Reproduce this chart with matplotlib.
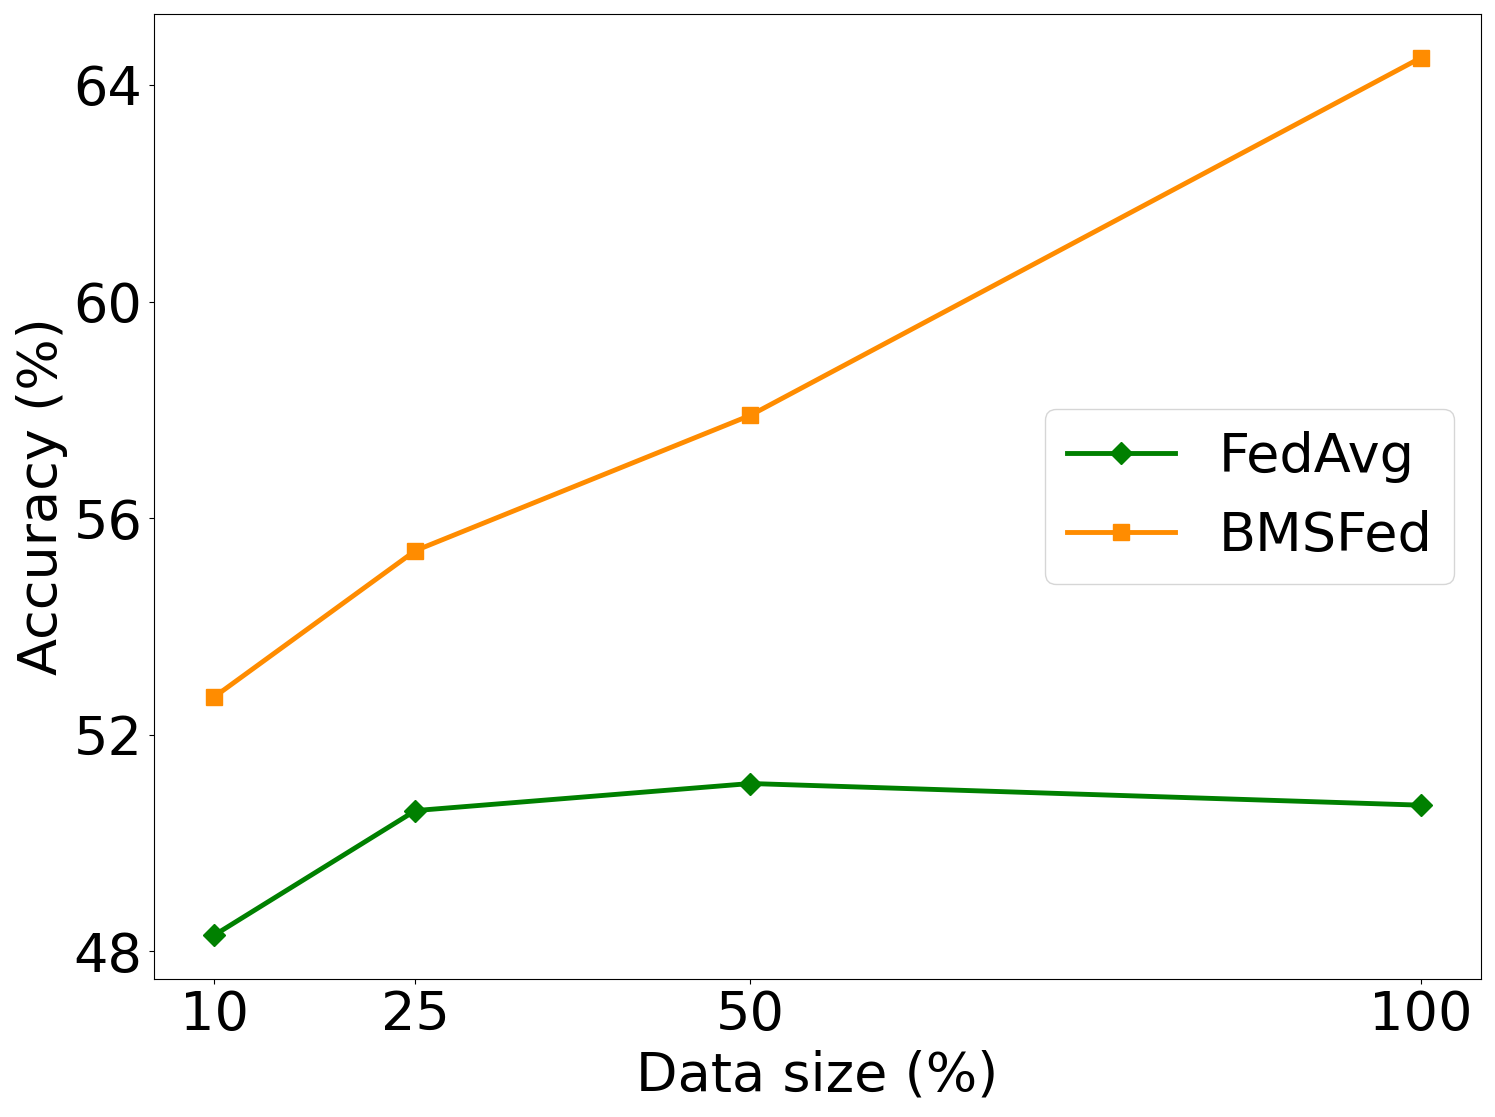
import matplotlib
matplotlib.use("Agg")
import matplotlib.pyplot as plt

data_size = [10, 25, 50, 100]
fedavg = [48.3, 50.6, 51.1, 50.7]
bmsfed = [52.7, 55.4, 57.9, 64.5]
yticks = [48, 52, 56, 60, 64]

fig = plt.figure(figsize=(14.95, 11.17), dpi=100)
ax = fig.add_axes([154/1495, 1 - 979/1117, (1481-154)/1495, (979-14)/1117])

ax.plot(data_size, fedavg, color='green', marker='D', linewidth=3.5, markersize=11, label='FedAvg')
ax.plot(data_size, bmsfed, color='darkorange', marker='s', linewidth=3.5, markersize=11, label='BMSFed')

ax.set_xticks(data_size)
ax.set_yticks(yticks)
ax.tick_params(labelsize=39)
ax.tick_params(axis='y', pad=5)
ax.set_xlabel('Data size (%)', fontsize=39, labelpad=6)
ax.set_ylabel('Accuracy (%)', fontsize=39)
ax.legend(loc='center right', fontsize=39)

fig.savefig('out.png', dpi=100)
